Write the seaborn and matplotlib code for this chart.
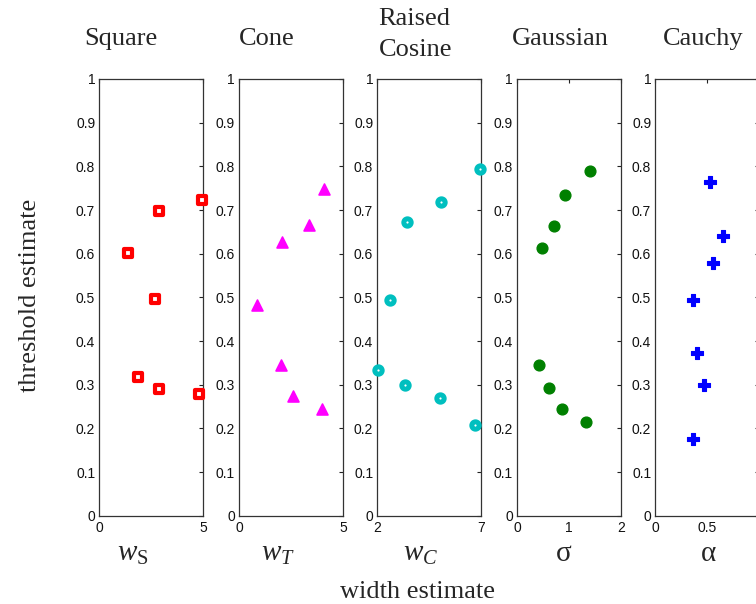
import matplotlib
matplotlib.use("Agg")
import matplotlib.pyplot as plt
import seaborn as sns
import pandas as pd

# ---- data ----
square_x = [1.36, 2.88, 4.92, 2.66, 1.88, 2.88, 4.81]
square_y = [0.602, 0.698, 0.724, 0.496, 0.317, 0.290, 0.279]

cone_x = [0.87, 2.09, 3.38, 4.07, 2.04, 2.60, 4.00]
cone_y = [0.482, 0.626, 0.666, 0.747, 0.344, 0.274, 0.245]

rcos_x = [2.61, 3.43, 5.08, 6.94, 2.02, 3.33, 5.01, 6.68]
rcos_y = [0.494, 0.672, 0.719, 0.793, 0.334, 0.299, 0.270, 0.208]

gauss_x = [0.487, 0.72, 0.917, 1.40, 0.417, 0.615, 0.86, 1.33]
gauss_y = [0.614, 0.663, 0.734, 0.790, 0.344, 0.293, 0.244, 0.214]

cauchy_x = [0.522, 0.649, 0.55, 0.364, 0.402, 0.468, 0.363]
cauchy_y = [0.763, 0.640, 0.579, 0.494, 0.372, 0.299, 0.176]

titles = ["Square", "Cone", "Raised\nCosine", "Gaussian", "Cauchy"]
xlabels = [r"$w_{\mathrm{S}}$", r"$w_{T}$", r"$w_{C}$", "σ", "α"]
xlims = [(0, 5), (0, 5), (2, 7), (0, 2), (0, 1)]
xticks = [[0, 5], [0, 5], [2, 7], [0, 1, 2], [0, 0.5]]
xticklabels = [["0", "5"], ["0", "5"], ["2", "7"], ["0", "1", "2"], ["0", "0.5"]]
yticks = [0, 0.1, 0.2, 0.3, 0.4, 0.5, 0.6, 0.7, 0.8, 0.9, 1.0]
yticklabels = ["0", "0.1", "0.2", "0.3", "0.4", "0.5", "0.6", "0.7", "0.8", "0.9", "1"]
ylabel = "threshold estimate"
common_xlabel = "width estimate"

sns.set_style("white")
plt.rcParams["font.family"] = ["Liberation Serif", "DejaVu Serif"]
plt.rcParams["mathtext.fontset"] = "custom"
plt.rcParams["mathtext.rm"] = "Liberation Serif"
plt.rcParams["mathtext.it"] = "Liberation Serif:italic"
plt.rcParams["mathtext.sf"] = "Liberation Serif"

W, H = 756, 604
fig = plt.figure(figsize=(W / 100, H / 100), dpi=100)

lefts = [99.3, 239.0, 377.3, 517.0, 655.3]
ax_w = 104.0
top_px, bot_px = 79.0, 515.7

series = [
    (square_x, square_y, dict(marker="s", s=34, color="white", edgecolor="#ff0000", linewidth=3.0)),
    (cone_x, cone_y, dict(marker="^", s=62, color="#ff00ff", edgecolor="#ff00ff", linewidth=1.2)),
    (rcos_x, rcos_y, dict(marker="o", s=28, color="white", edgecolor="#00bfbf", linewidth=3.6)),
    (gauss_x, gauss_y, dict(marker="o", s=60, color="#008000", edgecolor="#008000", linewidth=1.0)),
    (cauchy_x, cauchy_y, dict(marker="P", s=68, color="#0000ff", edgecolor="#0000ff", linewidth=0.8)),
]

tick_font = ["Liberation Sans", "DejaVu Sans"]

for i in range(5):
    ax = fig.add_axes([lefts[i] / W, 1 - bot_px / H, ax_w / W, (bot_px - top_px) / H])
    xs, ys, kw = series[i]
    df = pd.DataFrame({"x": xs, "y": ys})
    sns.scatterplot(data=df, x="x", y="y", ax=ax, legend=False, clip_on=False, zorder=3, **kw)
    ax.set_xlim(*xlims[i])
    ax.set_ylim(0, 1)
    ax.set_xticks(xticks[i])
    ax.set_xticklabels(xticklabels[i], family=tick_font, fontsize=10)
    ax.set_yticks(yticks)
    ax.set_yticklabels(yticklabels, family=tick_font, fontsize=10)
    ax.set_xlabel("")
    ax.set_ylabel("")
    ax.tick_params(direction="in", top=True, right=True, length=3, width=0.8,
                   color="#222222", labelcolor="#111111")
    ax.tick_params(axis="y", pad=3)
    ax.tick_params(axis="x", pad=4)
    for sp in ax.spines.values():
        sp.set_visible(True)
        sp.set_color("#333333")
        sp.set_linewidth(0.9)

def ftext(xp, yp, s, **kw):
    fig.text(xp / W, 1 - yp / H, s, **kw)

fs = 19
title_pos = [(121, 45), (267, 45), None, (560, 45), (703, 45)]
for i, t in enumerate(titles):
    if title_pos[i] is None:
        l1, l2 = t.split("\n")
        ftext(414, 25, l1, ha="center", va="baseline", fontsize=fs)
        ftext(416, 56, l2, ha="center", va="baseline", fontsize=fs)
    else:
        ftext(title_pos[i][0], title_pos[i][1], t, ha="center", va="baseline", fontsize=fs)

xl_pos = [133, 278, 421, 564, 709]
for i, t in enumerate(xlabels):
    ftext(xl_pos[i], 561, t, ha="center", va="baseline", fontsize=fs + 2)

ftext(417, 598, common_xlabel, ha="center", va="baseline", fontsize=fs)
ftext(30, 295, ylabel, ha="center", va="center", rotation=90, fontsize=fs)

fig.savefig("out.png", dpi=100)
